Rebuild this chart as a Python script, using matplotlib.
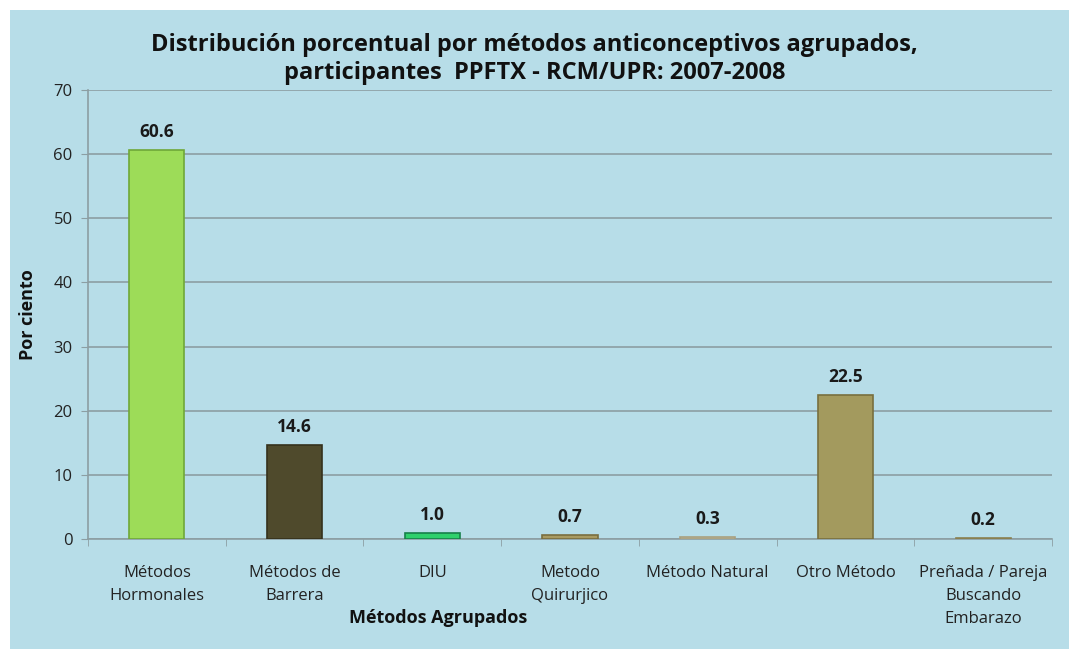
import numpy as np
import matplotlib.pyplot as plt

categories = ["Métodos\nHormonales", "Métodos de\nBarrera", "DIU", "Metodo\nQuirurjico",
              "Método Natural", "Otro Método", "Preñada / Pareja\nBuscando\nEmbarazo"]
values = [60.6, 14.6, 1.0, 0.7, 0.3, 22.5, 0.2]
colors = ["#9ddc58", "#4f4a2c", "#2fd06c", "#a99b63", "#c9c3a3", "#a39a5e", "#b2a775"]
edges = ["#6fa838", "#35311c", "#17804a", "#7a6e40", "#a8a080", "#786f3e", "#8a8050"]

bg = "#b7dde8"
plt.rcParams['font.family'] = ['Open Sans', 'DejaVu Sans']

fig = plt.figure(figsize=(10.69, 6.49), dpi=100)
fig.patch.set_facecolor("white")
# blue panel (white strip top and left)
fig.patches.append(plt.Rectangle((10 / 1069, 0), 1, 1 - 10 / 649, transform=fig.transFigure,
                                 facecolor=bg, edgecolor="none", zorder=-1))

ax = fig.add_axes([88 / 1069, 1 - 539 / 649, (1052 - 88) / 1069, (539 - 90) / 649])
ax.set_facecolor(bg)

x = np.arange(len(categories))
ax.bar(x, values, width=0.4, color=colors, edgecolor=edges, linewidth=1.2, zorder=3)
for xi, v in zip(x, values):
    ax.text(xi, v + 1.4, f"{v:.1f}", ha="center", va="bottom", fontsize=12.5,
            fontweight="bold", color="#1a1a1a", zorder=4)

ax.set_xlim(-0.5, len(categories) - 0.5)
ax.set_ylim(0, 70)
ax.set_yticks(range(0, 71, 10))
ax.yaxis.grid(True, color="#8c9ea3", linewidth=1.2, zorder=0)
ax.tick_params(axis="y", labelsize=12, colors="#8c9ea3", labelcolor="#222222", length=5, pad=6)

ax.set_xticks(x)
ax.set_xticklabels(categories, fontsize=12, color="#222222", linespacing=1.55, va="top")
ax.tick_params(axis="x", length=0, pad=19)
ax.set_xticks(np.arange(-0.5, len(categories)), minor=True)
ax.tick_params(axis="x", which="minor", length=5, color="#8c9ea3")

for s in ["top", "right"]:
    ax.spines[s].set_visible(False)
for s in ["left", "bottom"]:
    ax.spines[s].set_color("#8c9ea3")
    ax.spines[s].set_linewidth(1.2)

ax.set_ylabel("Por ciento", fontsize=13, fontweight="bold", color="#111111", labelpad=12)
fig.text(438 / 1069, 1 - 618 / 649, "Métodos Agrupados", ha="center", va="center",
         fontsize=13, fontweight="bold", color="#111111")
fig.text(0.5, 1 - 59 / 649, "Distribución porcentual por métodos anticonceptivos agrupados,\n"
         "participantes  PPFTX - RCM/UPR: 2007-2008", ha="center", va="center",
         fontsize=17, fontweight="bold", color="#111111", linespacing=1.25)

fig.savefig("out.png", dpi=100, facecolor=fig.get_facecolor())
